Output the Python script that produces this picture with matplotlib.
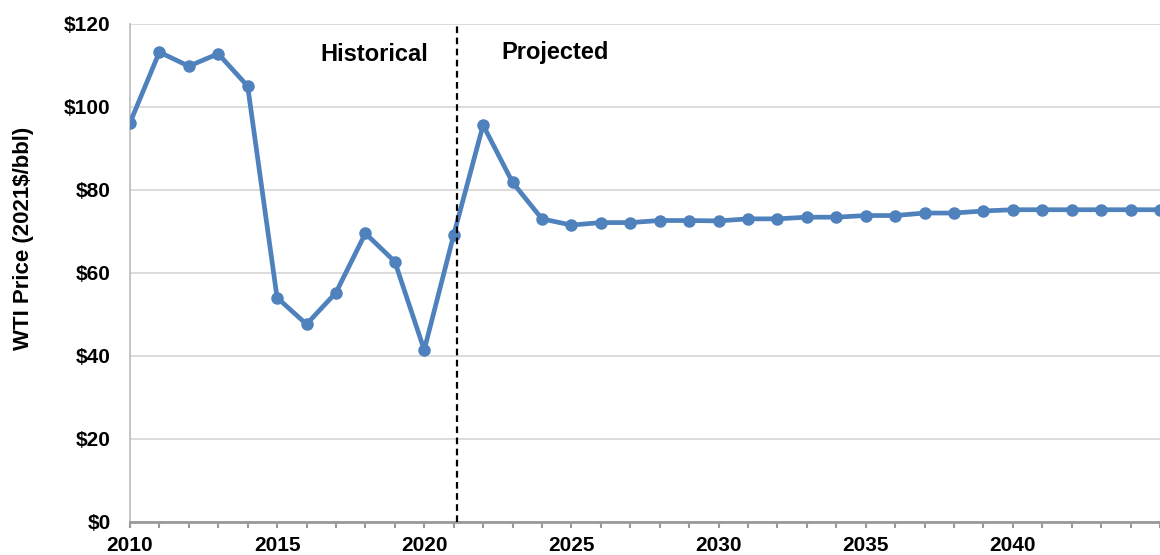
import matplotlib.pyplot as plt
import matplotlib as mpl
import numpy as np

# WTI crude oil price, 2021 dollars per barrel
years = list(range(2010, 2046))
price = [96.1, 113.2, 109.8, 112.8, 105.0, 54.0, 47.6, 55.2, 69.5, 62.7,
         41.4, 69.1, 95.6, 81.8, 73.0, 71.5, 72.1, 72.1, 72.6, 72.6,
         72.5, 73.0, 73.0, 73.4, 73.4, 73.8, 73.8, 74.4, 74.4, 74.9,
         75.2, 75.2, 75.2, 75.2, 75.2, 75.2]
y_ticks = [0, 20, 40, 60, 80, 100, 120]
y_labels = ['$0', '$20', '$40', '$60', '$80', '$100', '$120']
x_ticks = [2010, 2015, 2020, 2025, 2030, 2035, 2040]
split_year = 2021.1

mpl.rcParams['font.family'] = ['Liberation Sans', 'DejaVu Sans']
mpl.rcParams['font.weight'] = 'bold'

fig = plt.figure(figsize=(11.6, 5.55), dpi=100)
ax = fig.add_axes([0.112, 0.06, 0.888, 0.897])

ax.plot(years, price, color='#4f81bd', lw=3.4, marker='o', ms=8,
        solid_joinstyle='round', clip_on=True, zorder=3)
ax.axvline(split_year, color='black', ls=(0, (3, 2)), lw=1.6, zorder=4)

ax.text(2018.3, 112.5, 'Historical', fontsize=17, fontweight='bold', ha='center', va='center')
ax.text(2024.45, 113.0, 'Projected', fontsize=17, fontweight='bold', ha='center', va='center')

ax.set_xlim(2010, 2044.8)
ax.set_ylim(0, 120)
ax.set_yticks(y_ticks)
ax.set_yticklabels(y_labels)
ax.set_xticks(x_ticks)
ax.set_xticks(years, minor=True)
ax.grid(axis='y', color='#d9d9d9', lw=1.3)
ax.set_axisbelow(True)

for s in ['top', 'right']:
    ax.spines[s].set_visible(False)
ax.spines['left'].set_color('#bfbfbf')
ax.spines['left'].set_linewidth(1.3)
ax.spines['bottom'].set_color('#9a9a9a')
ax.spines['bottom'].set_linewidth(2)

ax.tick_params(axis='y', length=0, pad=14, labelsize=15)
ax.tick_params(axis='x', which='both', length=4, width=1.5, color='#9a9a9a',
               direction='out', pad=6, labelsize=15)
for lab in ax.get_xticklabels() + ax.get_yticklabels():
    lab.set_fontweight('bold')

ax.set_ylabel('WTI Price (2021$/bbl)', fontsize=16, fontweight='bold')
ax.yaxis.set_label_coords(-0.093, 0.57)

fig.savefig('out.png', dpi=100)
